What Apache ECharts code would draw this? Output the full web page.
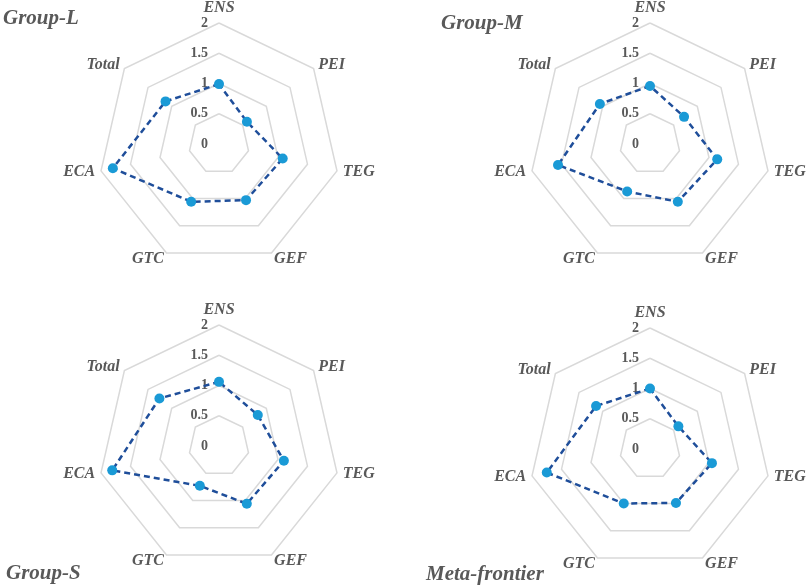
<!DOCTYPE html>
<html><head><meta charset="utf-8">
<script src="https://cdn.jsdelivr.net/npm/echarts@6/dist/echarts.min.js"></script>
<style>html,body{margin:0;padding:0;background:#fff}#c{width:809px;height:586px}</style>
</head><body><div id="c"></div>
<script>
const indicators = ['ENS', 'PEI', 'TEG', 'GEF', 'GTC', 'ECA', 'Total'];
const tickLabels = ['0', '0.5', '1', '1.5', '2'];
const groupNames = ['Group-L', 'Group-M', 'Group-S', 'Meta-frontier'];
const groupL = [0.99, 0.59, 1.08, 1.03, 1.06, 1.80, 1.13];
const groupM = [0.96, 0.72, 1.14, 1.06, 0.87, 1.56, 1.06];
const groupS = [1.06, 0.82, 1.10, 1.06, 0.73, 1.81, 1.26];
const metaFrontier = [1.00, 0.60, 1.05, 0.99, 1.00, 1.75, 1.14];
const allData = [groupL, groupM, groupS, metaFrontier];

// ECharts radar runs counter-clockwise; reorder so the indicators go clockwise
function cw(arr) { return [arr[0]].concat(arr.slice(1).reverse()); }

const centers = [[219, 144], [650, 144], [219, 446], [650, 449]];
const titlePos = [{left: -2, top: 3}, {left: 436, top: 8}, {left: 1, top: 558}, {left: 421, top: 559}];
const gray = '#595959';
const font = 'Liberation Serif';

const radars = centers.map(function (c) {
  return {
    center: c, radius: 121, startAngle: 90, shape: 'polygon', splitNumber: 4,
    indicator: cw(indicators).map(function (name, i) {
      const ind = {name: name, min: 0, max: 2};
      if (i === 0) ind.axisLabel = {show: true};
      return ind;
    }),
    axisName: {color: gray, fontFamily: font, fontStyle: 'italic', fontWeight: 'bold', fontSize: 16},
    nameGap: 6,
    axisLine: {show: false},
    axisTick: {show: false},
    splitArea: {show: false},
    splitLine: {lineStyle: {color: '#d9d9d9', width: 1.5}},
    axisLabel: {
      show: false, color: gray, fontFamily: font, fontWeight: 'bold', fontSize: 14, margin: 11,
      showMinLabel: true, showMaxLabel: true,
      formatter: function (v) { const i = Math.round(v / 0.5); return tickLabels[i] !== undefined ? tickLabels[i] : ''; }
    }
  };
});

const option = {
  animation: false,
  title: groupNames.map(function (n, i) {
    return Object.assign({text: n, textStyle: {color: gray, fontFamily: font, fontStyle: 'italic', fontWeight: 'bold', fontSize: 21}}, titlePos[i]);
  }),
  radar: radars,
  series: allData.map(function (d, i) {
    return {
      type: 'radar', radarIndex: i,
      symbol: 'circle', symbolSize: 10,
      lineStyle: {color: '#1f4e9a', width: 2.5, type: [6, 4]},
      itemStyle: {color: '#1a9ad6'},
      data: [{value: cw(d), name: groupNames[i]}]
    };
  })
};
const chart = echarts.init(document.getElementById('c'), null, {renderer: 'canvas'});
chart.setOption(option);
</script></body></html>
